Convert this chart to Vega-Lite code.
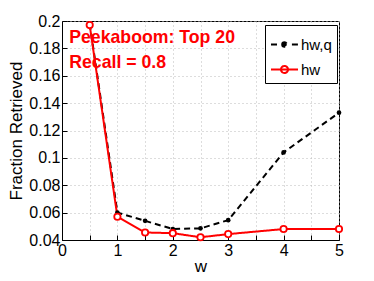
{
  "$schema": "https://vega.github.io/schema/vega-lite/v6.json",
  "width": 277,
  "height": 219,
  "autosize": {"type": "none"},
  "padding": {"left": 62, "top": 21, "right": 35, "bottom": 41},
  "background": "white",
  "config": {
    "font": "Liberation Sans",
    "view": {"stroke": "black", "strokeWidth": 1},
    "axis": {
      "labelFont": "Liberation Sans",
      "titleFont": "Liberation Sans",
      "labelFontSize": 16,
      "titleFontSize": 17,
      "titleFontWeight": "normal",
      "labelColor": "black",
      "titleColor": "black",
      "domainColor": "black",
      "tickColor": "black",
      "tickSize": -5,
      "gridColor": "#bbbbbb",
      "gridDash": [1, 3],
      "gridWidth": 1
    }
  },
  "data": {
    "values": [
      {"w": 0.5, "v": 0.198, "s": "hw,q"},
      {"w": 1, "v": 0.060, "s": "hw,q"},
      {"w": 1.5, "v": 0.054, "s": "hw,q"},
      {"w": 2, "v": 0.048, "s": "hw,q"},
      {"w": 2.5, "v": 0.0485, "s": "hw,q"},
      {"w": 3, "v": 0.0545, "s": "hw,q"},
      {"w": 4, "v": 0.104, "s": "hw,q"},
      {"w": 5, "v": 0.133, "s": "hw,q"},
      {"w": 0.5, "v": 0.197, "s": "hw"},
      {"w": 1, "v": 0.057, "s": "hw"},
      {"w": 1.5, "v": 0.0455, "s": "hw"},
      {"w": 2, "v": 0.045, "s": "hw"},
      {"w": 2.5, "v": 0.042, "s": "hw"},
      {"w": 3, "v": 0.0443, "s": "hw"},
      {"w": 4, "v": 0.048, "s": "hw"},
      {"w": 5, "v": 0.048, "s": "hw"}
    ]
  },
  "encoding": {
    "x": {
      "field": "w", "type": "quantitative",
      "scale": {"domain": [0, 5], "nice": false, "zero": false},
      "axis": {
        "title": "w",
        "values": [0, 0.5, 1, 1.5, 2, 2.5, 3, 3.5, 4, 4.5, 5],
        "format": ".1~f",
        "labelExpr": "datum.value % 1 === 0 ? datum.label : ''",
        "labelPadding": 7,
        "titlePadding": 0,
        "labelFlush": false,
        "labelOverlap": false
      }
    },
    "y": {
      "field": "v", "type": "quantitative",
      "scale": {"domain": [0.04, 0.2], "nice": false, "zero": false},
      "axis": {
        "title": "Fraction Retrieved",
        "values": [0.04, 0.06, 0.08, 0.1, 0.12, 0.14, 0.16, 0.18, 0.2],
        "format": ".2~f",
        "labelPadding": 7,
        "titlePadding": 3,
        "labelFlush": false,
        "labelOverlap": false
      }
    }
  },
  "layer": [
    {
      "mark": {"type": "line", "strokeWidth": 2},
      "encoding": {
        "color": {
          "field": "s", "type": "nominal",
          "scale": {"domain": ["hw,q", "hw"], "range": ["black", "red"]},
          "legend": {
            "title": null,
            "orient": "none",
            "legendX": 203,
            "legendY": 4,
            "padding": 5,
            "strokeColor": "black",
            "fillColor": "white",
            "labelFontSize": 15,
            "labelFont": "Liberation Sans",
            "labelColor": "black",
            "symbolSize": 729,
            "rowPadding": 2,
            "labelOffset": 2,
            "encode": {
              "symbols": {
                "update": {
                  "shape": {"signal": "datum.value === 'hw' ? 'M-1,0H1M-0.26,0A0.26,0.26,0,1,1,0.26,0A0.26,0.26,0,1,1,-0.26,0' : 'M-1,0H-0.55M-0.2,0H-0.05M0.55,0H1M-0.17,0A0.17,0.17,0,1,1,0.17,0A0.17,0.17,0,1,1,-0.17,0'"},
                  "fill": {"signal": "datum.value === 'hw' ? 'white' : 'black'"},
                  "stroke": {"signal": "datum.value === 'hw' ? 'red' : 'black'"},
                  "strokeDash": {"value": []},
                  "strokeWidth": {"value": 2},
                  "opacity": {"value": 1}
                }
              }
            }
          }
        },
        "strokeDash": {
          "field": "s", "type": "nominal",
          "scale": {"domain": ["hw,q", "hw"], "range": [[6, 4], [1, 0]]},
          "legend": null
        }
      }
    },
    {
      "mark": {"type": "point", "filled": true, "size": 22, "opacity": 1, "color": "black"},
      "transform": [{"filter": "datum.s === 'hw,q'"}]
    },
    {
      "mark": {"type": "point", "filled": false, "fill": "white", "size": 40, "opacity": 1, "strokeWidth": 1.8, "color": "red"},
      "transform": [{"filter": "datum.s === 'hw'"}]
    },
    {
      "transform": [{"filter": "datum.s === 'hw' && datum.w === 0.5"}],
      "mark": {"type": "text", "align": "left", "baseline": "top", "fontSize": 17.7, "fontWeight": "bold", "color": "red", "font": "Liberation Sans", "lineHeight": 25, "text": ["Peekaboom: Top 20", "Recall = 0.8"]},
      "encoding": {
        "x": {"datum": 0.13, "type": "quantitative"},
        "y": {"datum": 0.1945, "type": "quantitative"}
      }
    }
  ]
}
